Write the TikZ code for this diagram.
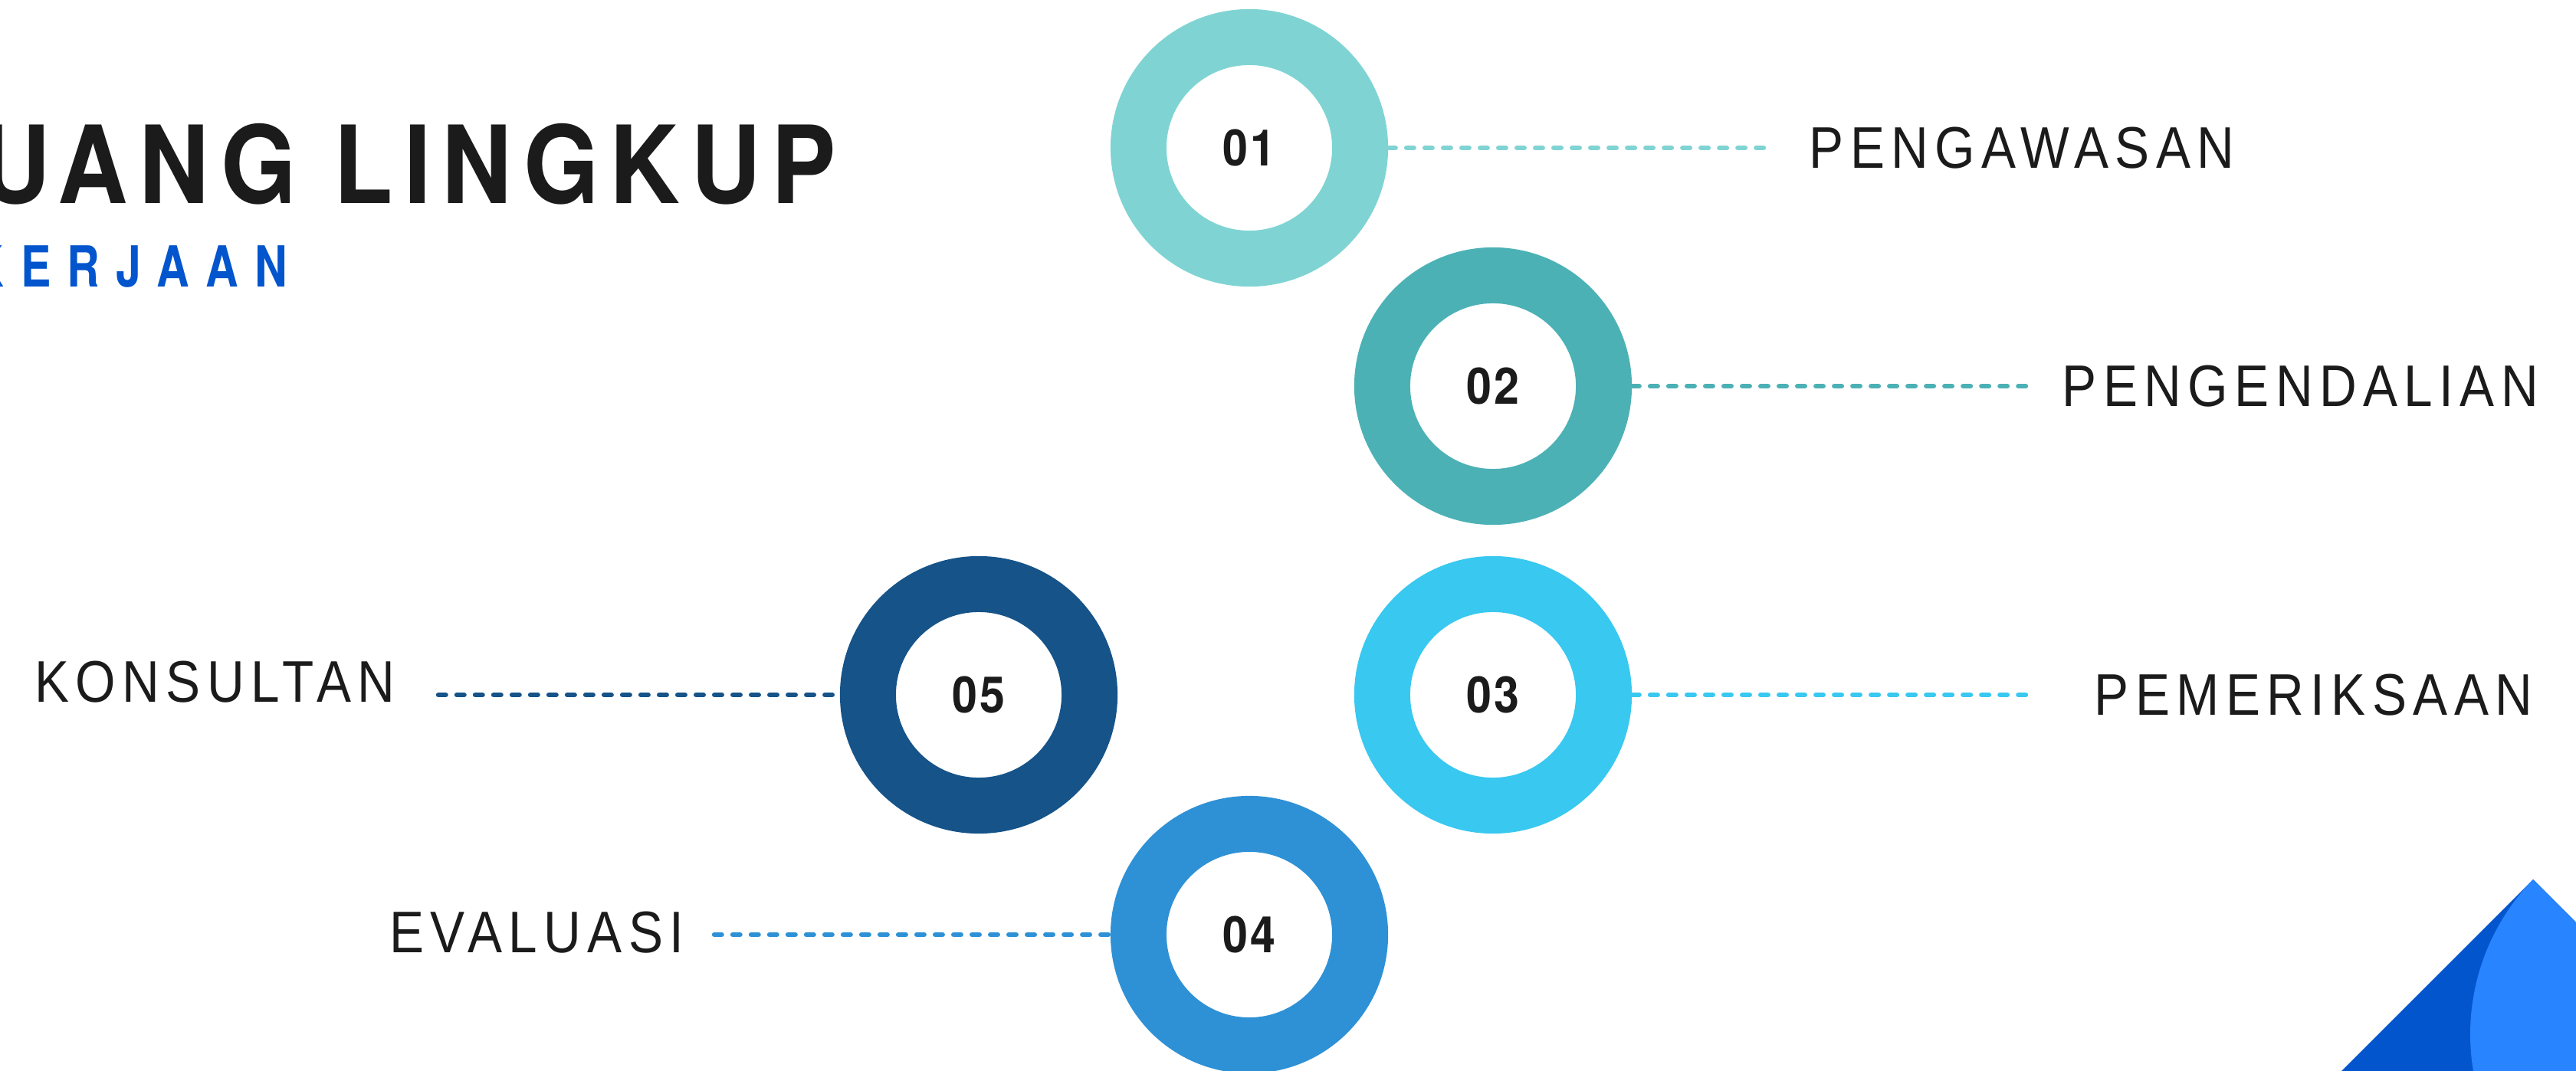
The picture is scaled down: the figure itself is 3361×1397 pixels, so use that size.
\documentclass[tikz,border=0pt]{standalone}
\usepackage{fontspec}
\setmainfont{Liberation Sans}
\newfontfamily\labelfont[FakeStretch=0.88,LetterSpace=11]{Liberation Sans}
\newfontfamily\headfont[FakeStretch=0.9,LetterSpace=10]{TeX Gyre Heros}
\newfontfamily\numfont[FakeStretch=0.9,LetterSpace=4]{TeX Gyre Heros}
\newfontfamily\subfont[FakeStretch=0.8,LetterSpace=29]{TeX Gyre Heros}
\usepackage{xcolor}
\usepackage{tikz}
\definecolor{ink}{HTML}{1B1B1B}
\definecolor{tealA}{HTML}{7FD4D3}
\definecolor{tealB}{HTML}{4CB1B5}
\definecolor{cyanC}{HTML}{38C8F0}
\definecolor{blueD}{HTML}{2E91D6}
\definecolor{navyE}{HTML}{155389}
\definecolor{deepblue}{HTML}{0255CD}
\definecolor{skyblue}{HTML}{2884FF}

\begin{document}
\begin{tikzpicture}[x=0.01cm, y=-0.01cm,
    ring/.style={circle, draw=#1, line width=0.73cm, fill=white, minimum size=2.89cm,
        inner sep=0pt, text=ink, font=\numfont\bfseries\fontsize{18.7}{20}\selectfont},
    lead/.style={draw=#1, line width=0.065cm, line cap=round, dash pattern=on 0.095cm off 0.145cm},
    lbl/.style={inner sep=0pt, text=ink, font=\labelfont\fontsize{21.8}{24}\selectfont}]
    \useasboundingbox (0,0) rectangle (3361,1397);

    % Titolo
    \node[anchor=base east, inner sep=0pt, text=ink, font=\headfont\bfseries\fontsize{40}{44}\selectfont] (title) at (1092,265) {RUANG LINGKUP};
    \node[anchor=base east, inner sep=0pt, text=deepblue, font=\subfont\bfseries\fontsize{21}{24}\selectfont] (subtitle) at (376,374) {PEKERJAAN};

    % Cerchi
    \foreach \n/\cx/\cy/\col in {01/1630/193/tealA, 02/1948/504/tealB, 03/1948/907/cyanC, 04/1630/1220/blueD, 05/1277/907/navyE} {
        \node[ring=\col] (c\n) at (\cx,\cy) {\n};
    }

    % Etichette a destra
    \foreach \n/\ex/\lx/\txt/\col in {01/2310/2360/PENGAWASAN/tealA, 02/2649/2690/PENGENDALIAN/tealB, 03/2649/2732/PEMERIKSAAN/cyanC} {
        \coordinate (e\n) at (c\n -| \ex,0);
        \draw[lead=\col] (c\n) -- (e\n);
        \node[lbl, anchor=west] (t\n) at (c\n -| \lx,0) {\txt};
    }

    % Etichette a sinistra
    \foreach \n/\ex/\lx/\dy/\txt/\col in {05/572/516/-17/KONSULTAN/navyE, 04/932/893/-3/EVALUASI/blueD} {
        \coordinate (e\n) at (c\n -| \ex,0);
        \draw[lead=\col] (e\n) -- (c\n);
        \node[lbl, anchor=east, yshift=-\dy*0.01cm] (t\n) at (c\n -| \lx,0) {\txt};
    }

    % Angolo
    \begin{scope}
        \clip (3305,1148) -- (2905,1548) -- (3305,1948) -- (3705,1548) -- cycle;
        \fill[deepblue] (2800,1100) rectangle (3400,1400);
        \fill[skyblue] (3513,1350) circle[radius=290];
    \end{scope}
\end{tikzpicture}
\end{document}
